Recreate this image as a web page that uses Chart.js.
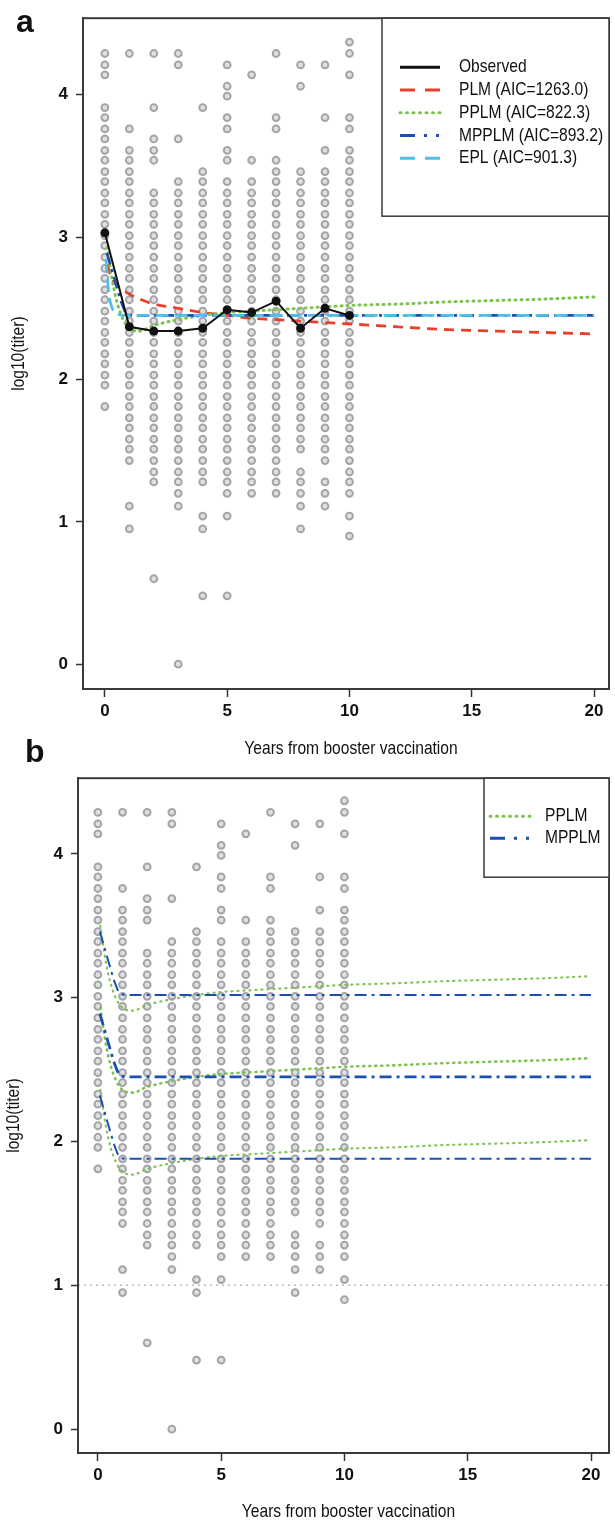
<!DOCTYPE html>
<html>
<head>
<meta charset="utf-8">
<script src="https://cdn.jsdelivr.net/npm/chart.js@4.4.1/dist/chart.umd.min.js"></script>
<style>
  body { margin: 0; background: #fff; overflow: hidden; }
  #wrap { position: relative; width: 615px; height: 1522px; }
  .box { position: absolute; left: 0; width: 615px; }
  .tag { position: absolute; font: bold 32px 'Liberation Sans', Arial, sans-serif; line-height: 32px; color: #111; z-index: 2; }
</style>
</head>
<body>
<div id="wrap">
  <div class="box" style="top:0;height:760px"><canvas id="panelA"></canvas></div>
  <div class="box" style="top:760px;height:762px"><canvas id="panelB"></canvas></div>
  <div class="tag" style="left:16px;top:5px">a</div>
  <div class="tag" style="left:25px;top:735px">b</div>
</div>
<script>
// --- data ---
const years = [0, 1, 2, 3, 4, 5, 6, 7, 8, 9, 10];
const xTicks = [0, 5, 10, 15, 20];
const yTicks = [0, 1, 2, 3, 4];

// individual log10 titers, one list per year
const titers0 = [4.29, 4.21, 4.14, 3.91, 3.84, 3.76, 3.69, 3.61, 3.54, 3.46, 3.39, 3.31, 3.24, 3.16, 3.09, 3.01, 2.94, 2.86, 2.78, 2.71, 2.63, 2.56, 2.48, 2.41, 2.33, 2.26, 2.18, 2.11, 2.03, 1.96, 1.81];
const titers1 = [4.29, 3.76, 3.61, 3.54, 3.46, 3.39, 3.31, 3.24, 3.16, 3.09, 3.01, 2.94, 2.86, 2.78, 2.71, 2.63, 2.56, 2.48, 2.41, 2.33, 2.26, 2.18, 2.11, 2.03, 1.96, 1.88, 1.81, 1.73, 1.66, 1.58, 1.51, 1.43, 1.11, 0.95];
const titers2 = [4.29, 3.91, 3.69, 3.61, 3.54, 3.31, 3.24, 3.16, 3.09, 3.01, 2.94, 2.86, 2.78, 2.71, 2.63, 2.56, 2.48, 2.41, 2.33, 2.26, 2.18, 2.11, 2.03, 1.96, 1.88, 1.81, 1.73, 1.66, 1.58, 1.51, 1.43, 1.35, 1.28, 0.60];
const titers3 = [4.29, 4.21, 3.69, 3.39, 3.31, 3.24, 3.16, 3.09, 3.01, 2.94, 2.86, 2.78, 2.71, 2.63, 2.56, 2.48, 2.41, 2.33, 2.26, 2.18, 2.11, 2.03, 1.96, 1.88, 1.81, 1.73, 1.66, 1.58, 1.51, 1.43, 1.35, 1.28, 1.20, 1.11, 0.00];
const titers4 = [3.91, 3.46, 3.39, 3.31, 3.24, 3.16, 3.09, 3.01, 2.94, 2.86, 2.78, 2.71, 2.63, 2.56, 2.48, 2.41, 2.33, 2.26, 2.18, 2.11, 2.03, 1.96, 1.88, 1.81, 1.73, 1.66, 1.58, 1.51, 1.43, 1.35, 1.28, 1.04, 0.95, 0.48];
const titers5 = [4.21, 4.06, 3.99, 3.84, 3.76, 3.61, 3.54, 3.39, 3.31, 3.24, 3.16, 3.09, 3.01, 2.94, 2.86, 2.78, 2.71, 2.63, 2.56, 2.48, 2.41, 2.33, 2.26, 2.18, 2.11, 2.03, 1.96, 1.88, 1.81, 1.73, 1.66, 1.58, 1.51, 1.43, 1.35, 1.28, 1.20, 1.04, 0.48];
const titers6 = [4.14, 3.54, 3.39, 3.31, 3.24, 3.16, 3.09, 3.01, 2.94, 2.86, 2.78, 2.71, 2.63, 2.56, 2.48, 2.41, 2.33, 2.26, 2.18, 2.11, 2.03, 1.96, 1.88, 1.81, 1.73, 1.66, 1.58, 1.51, 1.43, 1.35, 1.28, 1.20];
const titers7 = [4.29, 3.84, 3.76, 3.54, 3.46, 3.39, 3.31, 3.24, 3.16, 3.09, 3.01, 2.94, 2.86, 2.78, 2.71, 2.63, 2.56, 2.48, 2.41, 2.33, 2.26, 2.18, 2.11, 2.03, 1.96, 1.88, 1.81, 1.73, 1.66, 1.58, 1.51, 1.43, 1.35, 1.28, 1.20];
const titers8 = [4.21, 4.06, 3.46, 3.39, 3.31, 3.24, 3.16, 3.09, 3.01, 2.94, 2.86, 2.78, 2.71, 2.63, 2.56, 2.48, 2.41, 2.33, 2.26, 2.18, 2.11, 2.03, 1.96, 1.88, 1.81, 1.73, 1.66, 1.58, 1.51, 1.35, 1.28, 1.20, 1.11, 0.95];
const titers9 = [4.21, 3.84, 3.61, 3.46, 3.39, 3.31, 3.24, 3.16, 3.09, 3.01, 2.94, 2.86, 2.78, 2.71, 2.63, 2.56, 2.48, 2.41, 2.33, 2.26, 2.18, 2.11, 2.03, 1.96, 1.88, 1.81, 1.73, 1.66, 1.58, 1.51, 1.43, 1.28, 1.20, 1.11];
const titers10 = [4.37, 4.29, 4.14, 3.84, 3.76, 3.61, 3.54, 3.46, 3.39, 3.31, 3.24, 3.16, 3.09, 3.01, 2.94, 2.86, 2.78, 2.71, 2.63, 2.56, 2.48, 2.41, 2.33, 2.26, 2.18, 2.11, 2.03, 1.96, 1.88, 1.81, 1.73, 1.66, 1.58, 1.51, 1.43, 1.35, 1.28, 1.20, 1.04, 0.90];
const titerColumns = [titers0, titers1, titers2, titers3, titers4, titers5, titers6, titers7, titers8, titers9, titers10];

// observed yearly means
const observed = [3.03, 2.37, 2.34, 2.34, 2.36, 2.49, 2.47, 2.55, 2.36, 2.50, 2.45];

// fitted curves (x in years, y in log10 titer)
const plmX = [0.1, 0.25, 0.5, 1, 1.5, 2, 3, 4, 5, 6, 7, 8, 9, 10, 12, 14, 16, 18, 20];
const plmY = [2.81, 2.72, 2.66, 2.60, 2.56, 2.53, 2.50, 2.47, 2.45, 2.43, 2.42, 2.41, 2.40, 2.39, 2.37, 2.35, 2.34, 2.33, 2.32];

const pplmX = [0.1, 0.3, 0.5, 0.75, 1, 1.4, 2, 3, 4, 5, 6, 7, 8, 9, 10, 12, 14, 16, 18, 20];
const pplmY = [2.93, 2.70, 2.54, 2.42, 2.36, 2.34, 2.38, 2.42, 2.45, 2.47, 2.48, 2.49, 2.50, 2.51, 2.52, 2.53, 2.545, 2.555, 2.565, 2.58];
const pplmUpper = [3.50, 3.27, 3.11, 2.99, 2.93, 2.91, 2.95, 2.99, 3.02, 3.04, 3.05, 3.06, 3.07, 3.08, 3.09, 3.10, 3.115, 3.125, 3.135, 3.15];
const pplmLower = [2.36, 2.13, 1.97, 1.85, 1.79, 1.77, 1.81, 1.85, 1.88, 1.90, 1.91, 1.92, 1.93, 1.94, 1.95, 1.96, 1.975, 1.985, 1.995, 2.01];

const mpplmX = [0.08, 0.3, 0.5, 0.7, 0.9, 1.2, 5, 10, 15, 20];
const mpplmY = [2.89, 2.76, 2.64, 2.53, 2.46, 2.45, 2.45, 2.45, 2.45, 2.45];
const mpplmUpper = [3.46, 3.33, 3.21, 3.10, 3.03, 3.02, 3.02, 3.02, 3.02, 3.02];
const mpplmLower = [2.32, 2.19, 2.07, 1.96, 1.89, 1.88, 1.88, 1.88, 1.88, 1.88];

const eplX = [0.05, 0.1, 0.15, 0.2, 0.3, 0.45, 0.6, 0.8, 1, 5, 10, 20];
const eplY = [2.84, 2.72, 2.62, 2.56, 2.50, 2.47, 2.455, 2.45, 2.45, 2.45, 2.45, 2.45];

const cutoffLevel = 1;

const labelsA = ['Observed', 'PLM (AIC=1263.0)', 'PPLM (AIC=822.3)', 'MPPLM (AIC=893.2)', 'EPL (AIC=901.3)'];
const labelsB = ['PPLM', 'MPPLM'];
const xTitle = 'Years from booster vaccination';
const yTitle = 'log10(titer)';

// --- styling ---
const FONT = "'Liberation Sans', Arial, sans-serif";
const NARROW = 0.82; // the original uses a condensed face
Chart.defaults.font.family = FONT;
Chart.defaults.color = '#111';

const C_BLACK = '#111111', C_RED = '#e8402d', C_GREEN = '#7cc24e', C_BLUE = '#1c4fb3', C_CYAN = '#4cc0e6', C_GREY = '#a3a5a9';
const DASH_RED = [10, 7], DASH_GREEN = [1, 5], DASH_BLUE = [12, 5, 3, 5], DASH_CYAN = [13, 6];

function pts(xs, ys) { return xs.map((x, i) => ({ x: x, y: ys[i] })); }

const scatterPts = [];
titerColumns.forEach((col, i) => col.forEach(v => scatterPts.push({ x: years[i], y: v })));

function pointSet() {
    return {
        label: 'titers', data: scatterPts, showLine: false, order: 20,
        pointRadius: 3.4, pointBorderWidth: 2, pointBorderColor: C_GREY,
        pointBackgroundColor: 'rgba(163,165,169,0.35)'
    };
}

function curve(label, xs, ys, color, dash, width, order) {
    return {
        label: label, data: pts(xs, ys), showLine: true, order: order,
        borderColor: color, borderWidth: width, borderDash: dash,
        borderCapStyle: dash === DASH_GREEN ? 'round' : 'butt',
        pointRadius: 0, cubicInterpolationMode: 'monotone', fill: false
    };
}

function narrowText(ctx, text, x, y, rot) {
    ctx.save();
    ctx.translate(x, y);
    if (rot) ctx.rotate(rot);
    ctx.scale(NARROW, 1);
    ctx.fillText(text, 0, 0);
    ctx.restore();
}

// frame round the plot, axis titles, and boxed legend in the top right corner
const frameLegend = {
    id: 'frameLegend',
    afterDatasetsDraw(chart, args, o) {
        const ctx = chart.ctx, a = chart.chartArea;
        ctx.save();
        ctx.strokeStyle = '#3a3a3a';
        ctx.lineWidth = 2;
        ctx.strokeRect(a.left, a.top, a.right - a.left, a.bottom - a.top);

        ctx.fillStyle = '#111';
        ctx.font = '19px ' + FONT;
        ctx.textBaseline = 'middle';
        ctx.textAlign = 'center';
        narrowText(ctx, xTitle, (a.left + a.right) / 2 + 5, o.xTitleY, 0);
        narrowText(ctx, yTitle, o.yTitleX, (a.top + a.bottom) / 2, -Math.PI / 2);

        const x0 = a.right - o.width, y0 = a.top;
        ctx.fillStyle = '#fff';
        ctx.fillRect(x0, y0, o.width, o.height);
        ctx.lineWidth = 1.5;
        ctx.strokeRect(x0, y0, o.width, o.height);

        ctx.textAlign = 'left';
        o.items.forEach((it, i) => {
            const y = y0 + o.firstRow + i * o.rowGap;
            ctx.beginPath();
            ctx.setLineDash(it.dash);
            ctx.lineCap = it.cap || 'butt';
            ctx.strokeStyle = it.color;
            ctx.lineWidth = it.width;
            ctx.moveTo(x0 + o.sampleX, y);
            ctx.lineTo(x0 + o.sampleX + 40, y);
            ctx.stroke();
            ctx.setLineDash([]);
            ctx.fillStyle = '#111';
            narrowText(ctx, it.label, x0 + o.textX, y, 0);
        });
        ctx.restore();
    }
};

function scales(xMin, xMax, yMin, yMax, yWidth, xHeight) {
    return {
        x: {
            type: 'linear', min: xMin, max: xMax,
            afterBuildTicks: s => { s.ticks = xTicks.map(v => ({ value: v })); },
            afterFit: s => { s.height = xHeight; },
            grid: { drawOnChartArea: false, tickLength: 8, tickColor: '#333', tickWidth: 1.5 },
            border: { color: '#3a3a3a', width: 2 },
            ticks: { font: { size: 17, weight: 'bold' }, color: '#111', padding: 4, maxRotation: 0, autoSkip: false }
        },
        y: {
            type: 'linear', min: yMin, max: yMax,
            afterBuildTicks: s => { s.ticks = yTicks.map(v => ({ value: v })); },
            afterFit: s => { s.width = yWidth; },
            grid: { drawOnChartArea: false, tickLength: 7, tickColor: '#333', tickWidth: 1.5 },
            border: { color: '#3a3a3a', width: 2 },
            ticks: { font: { size: 17, weight: 'bold' }, color: '#111', padding: 8 }
        }
    };
}

const baseOpts = {
    responsive: true, maintainAspectRatio: false, animation: false,
    plugins: { legend: { display: false }, tooltip: { enabled: false } }
};

// panel a
new Chart(document.getElementById('panelA'), {
    type: 'scatter',
    data: {
        datasets: [
            pointSet(),
            {
                label: labelsA[0], data: pts(years, observed), showLine: true, order: 0,
                borderColor: C_BLACK, borderWidth: 2, pointRadius: 3.5,
                pointBackgroundColor: C_BLACK, pointBorderColor: C_BLACK
            },
            curve(labelsA[1], plmX, plmY, C_RED, DASH_RED, 2.8, 4),
            curve(labelsA[2], pplmX, pplmY, C_GREEN, DASH_GREEN, 3, 3),
            curve(labelsA[3], mpplmX, mpplmY, C_BLUE, DASH_BLUE, 2.6, 2),
            curve(labelsA[4], eplX, eplY, C_CYAN, DASH_CYAN, 2.8, 1)
        ]
    },
    options: Object.assign({}, baseOpts, {
        layout: { padding: { top: 14, right: 3, left: 0, bottom: 0 } },
        scales: scales(-0.894, 20.61, -0.1745, 4.538, 83, 71),
        plugins: Object.assign({}, baseOpts.plugins, {
            frameLegend: {
                xTitleY: 749, yTitleX: 19,
                width: 227, height: 198, sampleX: 18, textX: 77, firstRow: 49, rowGap: 22.75,
                items: [
                    { label: labelsA[0], color: C_BLACK, dash: [], width: 3 },
                    { label: labelsA[1], color: C_RED, dash: [15, 10], width: 3 },
                    { label: labelsA[2], color: C_GREEN, dash: [1, 5.5], width: 3, cap: 'round' },
                    { label: labelsA[3], color: C_BLUE, dash: [15, 9, 3, 9, 3, 9], width: 3 },
                    { label: labelsA[4], color: C_CYAN, dash: [15, 10], width: 3 }
                ]
            }
        })
    }),
    plugins: [frameLegend]
});

// panel b
new Chart(document.getElementById('panelB'), {
    type: 'scatter',
    data: {
        datasets: [
            pointSet(),
            {
                label: 'cutoff', data: [{ x: -0.806, y: cutoffLevel }, { x: 20.73, y: cutoffLevel }],
                showLine: true, order: 15, borderColor: 'rgba(170,185,170,0.9)', borderWidth: 1.5,
                borderDash: [2, 4], pointRadius: 0
            },
            curve(labelsB[0], pplmX, pplmUpper, C_GREEN, DASH_GREEN, 2.2, 3),
            curve(labelsB[0], pplmX, pplmY, C_GREEN, DASH_GREEN, 2.6, 3),
            curve(labelsB[0], pplmX, pplmLower, C_GREEN, DASH_GREEN, 2.2, 3),
            curve(labelsB[1], mpplmX, mpplmUpper, C_BLUE, DASH_BLUE, 2, 2),
            curve(labelsB[1], mpplmX, mpplmY, C_BLUE, DASH_BLUE, 2.8, 2),
            curve(labelsB[1], mpplmX, mpplmLower, C_BLUE, DASH_BLUE, 2, 2)
        ]
    },
    options: Object.assign({}, baseOpts, {
        layout: { padding: { top: 16, right: 3, left: 0, bottom: 0 } },
        scales: scales(-0.806, 20.73, -0.166, 4.527, 78, 69),
        plugins: Object.assign({}, baseOpts.plugins, {
            frameLegend: {
                xTitleY: 752, yTitleX: 14,
                width: 125, height: 99, sampleX: 6, textX: 61, firstRow: 38, rowGap: 22,
                items: [
                    { label: labelsB[0], color: C_GREEN, dash: [1, 5.5], width: 3, cap: 'round' },
                    { label: labelsB[1], color: C_BLUE, dash: [15, 9, 3, 9, 3, 9], width: 3 }
                ]
            }
        })
    }),
    plugins: [frameLegend]
});
</script>
</body>
</html>
